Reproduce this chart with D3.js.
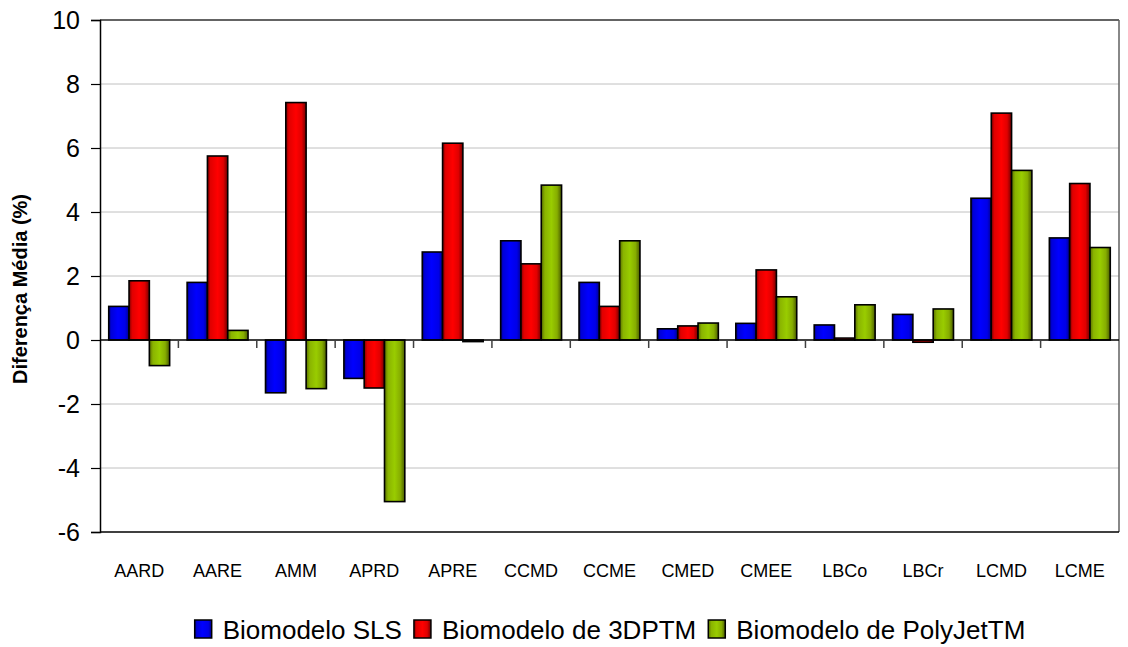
<!DOCTYPE html>
<html>
<head>
<meta charset="utf-8">
<script src="https://cdn.jsdelivr.net/npm/d3@7"></script>
<style>
  html, body { margin: 0; padding: 0; background: #fff; }
  svg { display: block; font-family: "Liberation Sans", Arial, sans-serif; }
</style>
</head>
<body>
<svg id="chart" width="1128" height="647"></svg>
<script>
// Mean difference (%) per anatomical measurement, for each biomodel technology
const categories = ["AARD", "AARE", "AMM", "APRD", "APRE", "CCMD", "CCME", "CMED", "CMEE", "LBCo", "LBCr", "LCMD", "LCME"];
const seriesNames = ["Biomodelo SLS", "Biomodelo de 3DPTM", "Biomodelo de PolyJetTM"];
const slsValues      = [1.05, 1.8, -1.65, -1.2, 2.75, 3.1, 1.8, 0.35, 0.52, 0.47, 0.8, 4.43, 3.19];
const threeDPValues  = [1.85, 5.75, 7.42, -1.5, 6.15, 2.38, 1.05, 0.44, 2.19, 0.06, -0.07, 7.09, 4.89];
const polyJetValues  = [-0.8, 0.3, -1.52, -5.05, -0.05, 4.84, 3.1, 0.53, 1.35, 1.1, 0.97, 5.3, 2.89];
const yTicks = [-6, -4, -2, 0, 2, 4, 6, 8, 10];

const series = [slsValues, threeDPValues, polyJetValues];
const gradients = [
  { id: "gBlue",  stops: [["0%", "#00007a"], ["12%", "#0000d8"], ["45%", "#0000ff"], ["80%", "#0000e8"], ["100%", "#000090"]] },
  { id: "gRed",   stops: [["0%", "#7a0000"], ["15%", "#e00000"], ["50%", "#ff0000"], ["78%", "#e00000"], ["100%", "#700000"]] },
  { id: "gGreen", stops: [["0%", "#5a7000"], ["18%", "#8ab400"], ["50%", "#99cc00"], ["78%", "#86ad00"], ["100%", "#4a5c00"]] }
];

const svg = d3.select("#chart");
const plotLeft = 100, plotRight = 1119, plotTop = 20, plotBottom = 532;

const defs = svg.append("defs");
gradients.forEach(g => {
  const lg = defs.append("linearGradient").attr("id", g.id)
    .attr("x1", "0").attr("x2", "1").attr("y1", "0").attr("y2", "0");
  g.stops.forEach(s => lg.append("stop").attr("offset", s[0]).attr("stop-color", s[1]));
});

const x = d3.scaleBand().domain(categories).range([plotLeft, plotRight]).paddingInner(0).paddingOuter(0);
const xs = d3.scaleBand().domain(d3.range(series.length)).range([0, x.bandwidth()]).paddingInner(0).paddingOuter(0.43);
const y = d3.scaleLinear().domain([-6, 10]).range([plotBottom, plotTop]);

// gridlines
svg.append("g").selectAll("line")
  .data(yTicks.filter(t => t !== 0 && t !== -6 && t !== 10))
  .join("line")
  .attr("x1", plotLeft).attr("x2", plotRight)
  .attr("y1", d => y(d)).attr("y2", d => y(d))
  .attr("stroke", "#c0c0c0").attr("stroke-width", 1);

// frame: top, right and bottom
svg.append("line").attr("x1", plotLeft).attr("x2", plotRight).attr("y1", y(10)).attr("y2", y(10))
  .attr("stroke", "#303030").attr("stroke-width", 1.5);
svg.append("line").attr("x1", plotRight).attr("x2", plotRight).attr("y1", y(10)).attr("y2", y(-6))
  .attr("stroke", "#606060").attr("stroke-width", 1.5);
svg.append("line").attr("x1", plotLeft).attr("x2", plotRight).attr("y1", y(-6)).attr("y2", y(-6))
  .attr("stroke", "#000").attr("stroke-width", 1.5);

// bars
const groups = svg.append("g").selectAll("g")
  .data(categories)
  .join("g")
  .attr("transform", d => `translate(${x(d)},0)`);

groups.selectAll("rect")
  .data((c, i) => series.map((s, k) => ({ k, v: s[i] })))
  .join("rect")
  .attr("x", d => xs(d.k))
  .attr("width", xs.bandwidth())
  .attr("y", d => y(Math.max(0, d.v)))
  .attr("height", d => Math.abs(y(d.v) - y(0)))
  .attr("fill", d => `url(#${gradients[d.k].id})`)
  .attr("stroke", "#000")
  .attr("stroke-width", 1.6);

// zero line with category ticks
svg.append("line").attr("x1", plotLeft).attr("x2", plotRight).attr("y1", y(0)).attr("y2", y(0))
  .attr("stroke", "#000").attr("stroke-width", 1.5);
svg.append("g").selectAll("line")
  .data(d3.range(1, categories.length))
  .join("line")
  .attr("x1", i => plotLeft + i * x.step()).attr("x2", i => plotLeft + i * x.step())
  .attr("y1", y(0)).attr("y2", y(0) + 8)
  .attr("stroke", "#404040").attr("stroke-width", 1.5);

// category labels
svg.append("g").selectAll("text")
  .data(categories)
  .join("text")
  .attr("x", d => x(d) + x.bandwidth() / 2)
  .attr("y", 577)
  .attr("text-anchor", "middle")
  .attr("font-size", 18)
  .attr("fill", "#000")
  .text(d => d);

// y axis
const yAxis = svg.append("g")
  .attr("transform", `translate(${plotLeft},0)`)
  .call(d3.axisLeft(y).tickValues(yTicks).tickSize(9).tickPadding(11).tickFormat(d => String(d)));
yAxis.select(".domain").attr("stroke", "#000").attr("stroke-width", 1.5);
yAxis.selectAll(".tick line").attr("stroke", "#000").attr("stroke-width", 1.2);
yAxis.selectAll(".tick text")
  .attr("font-size", 25)
  .attr("font-family", "'Liberation Sans', Arial, sans-serif")
  .attr("fill", "#000");

// y title
svg.append("text")
  .attr("transform", `translate(27,289) rotate(-90)`)
  .attr("text-anchor", "middle")
  .attr("font-size", 20)
  .attr("font-weight", "bold")
  .text("Diferença Média (%)");

// legend
const legend = svg.append("g");
let lx = 0;
seriesNames.forEach((name, k) => {
  const item = legend.append("g").attr("transform", `translate(${lx},0)`);
  item.append("rect").attr("x", 0).attr("y", -19).attr("width", 17).attr("height", 18)
    .attr("fill", `url(#${gradients[k].id})`).attr("stroke", "#000").attr("stroke-width", 1.5);
  const t = item.append("text").attr("x", 28).attr("y", 0).attr("font-size", 26).text(name);
  lx += 28 + t.node().getComputedTextLength() + 12;
});
const legendWidth = lx - 12;
legend.attr("transform", `translate(${610 - legendWidth / 2},639)`);
</script>
</body>
</html>
